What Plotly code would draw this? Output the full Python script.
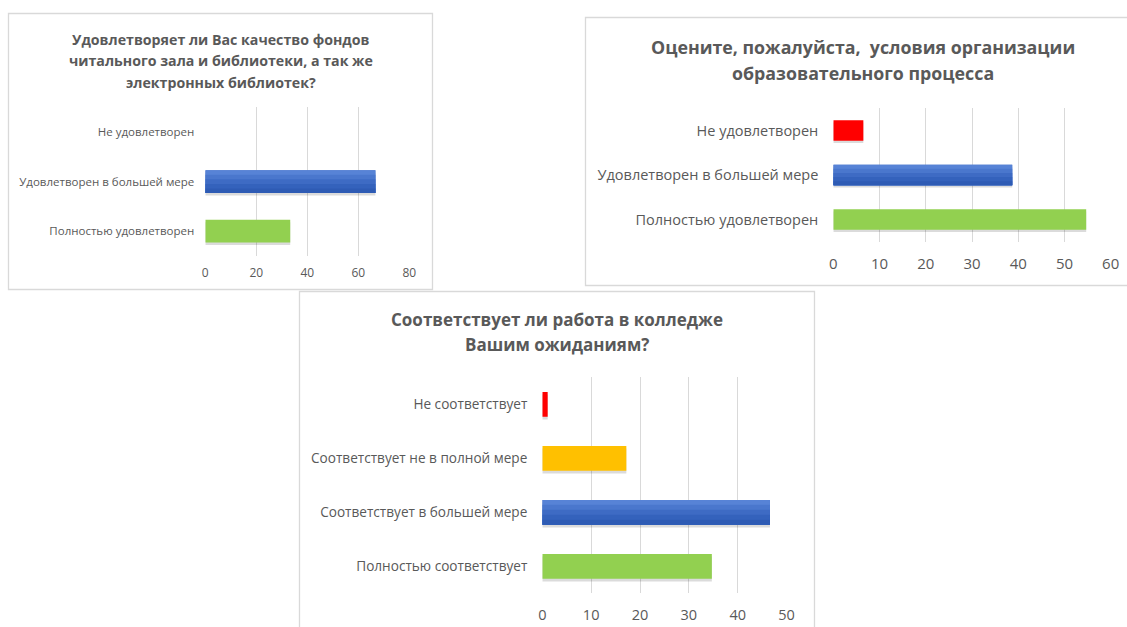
import plotly.graph_objects as go

W, H = 1127, 627

# ---------- data ----------
cats1 = ["Не удовлетворен", "Удовлетворен в большей мере", "Полностью удовлетворен"]
vals1 = [0, 66.7, 33.3]
cols1 = ["#FFFFFF", "#3F6DC6", "#92D050"]
ticks1 = [0, 20, 40, 60, 80]
title1 = ["Удовлетворяет ли Вас качество фондов",
          "читального зала и библиотеки, а так же",
          "электронных библиотек?"]

cats2 = ["Не удовлетворен", "Удовлетворен в большей мере", "Полностью удовлетворен"]
vals2 = [6.5, 38.7, 54.7]
cols2 = ["#FF0000", "#3F6DC6", "#92D050"]
ticks2 = [0, 10, 20, 30, 40, 50, 60]
title2 = ["Оцените, пожалуйста,  условия организации",
          "образовательного процесса"]

cats3 = ["Не соответствует", "Соответствует не в полной мере",
         "Соответствует в большей мере", "Полностью соответствует"]
vals3 = [1.1, 17.2, 46.6, 34.7]
cols3 = ["#FF0000", "#FFC000", "#3F6DC6", "#92D050"]
ticks3 = [0, 10, 20, 30, 40, 50]
title3 = ["Соответствует ли работа в колледже", "Вашим ожиданиям?"]

FONT = "Open Sans"
TXT = "#595959"
GRID = "#D9D9D9"
BORDER = "#D9D9D9"
BLUE = "#3F6DC6"
BLUE_STRIPS = ["#5783D6", "#4A77CD", "#3E6BC4", "#3462BC", "#2E5BB4"]
BW = 0.46  # bar thickness (category units)


def px(x):
    return x / W


def py(y):
    return 1 - y / H


fig = go.Figure()

panels = [
    # cats, vals, cols, ticks, (x0px, x1px), (ytop, ybot), label size, tick size, x standoff, y standoff
    (cats1, vals1, cols1, ticks1, (205.3, 409.3), (107.3, 256.0), 11.5, 12, 8, 10),
    (cats2, vals2, cols2, ticks2, (833.3, 1110.7), (108.3, 241.7), 14.5, 15, 11, 14),
    (cats3, vals3, cols3, ticks3, (542.3, 786.6), (377.3, 593.3), 13.6, 14.5, 11, 14),
]

layout_axes = {}
for i, (cats, vals, cols, ticks, (x0, x1), (yt, yb), lsz, tsz, xso, yso) in enumerate(panels, start=1):
    suffix = "" if i == 1 else str(i)
    xa, ya = "x" + suffix, "y" + suffix
    # soft shadow behind bars
    fig.add_trace(go.Bar(
        x=vals, y=cats, orientation="h",
        marker=dict(color="rgba(0,0,0,0.14)", line=dict(width=0)),
        xaxis=xa, yaxis=ya, width=BW, offset=-BW / 2 + 0.05,
        showlegend=False, hoverinfo="skip",
    ))
    # main bars
    fig.add_trace(go.Bar(
        x=vals, y=cats, orientation="h",
        marker=dict(color=cols, line=dict(width=0)),
        xaxis=xa, yaxis=ya, width=BW, offset=-BW / 2,
        showlegend=False, hoverinfo="x+y",
    ))
    # vertical gradient on the blue bar (nested layers, no seams)
    blue_vals = [v if c == BLUE else 0 for v, c in zip(vals, cols)]
    n = len(BLUE_STRIPS)
    for k, sc in enumerate(BLUE_STRIPS):
        fig.add_trace(go.Bar(
            x=blue_vals, y=cats, orientation="h",
            marker=dict(color=sc, line=dict(width=0)),
            xaxis=xa, yaxis=ya, width=BW - k * BW / n, offset=-BW / 2 + k * BW / n,
            showlegend=False, hoverinfo="skip",
        ))
    layout_axes["xaxis" + suffix] = dict(
        domain=[px(x0), px(x1)], range=[0, ticks[-1]], anchor=ya,
        tickvals=ticks, ticktext=[str(t) for t in ticks],
        showgrid=True, gridcolor=GRID, gridwidth=1, zeroline=False,
        showline=False, ticks="", automargin=False,
        tickfont=dict(family=FONT, size=tsz, color=TXT),
        ticklabelstandoff=xso, fixedrange=True,
    )
    layout_axes["yaxis" + suffix] = dict(
        domain=[py(yb), py(yt)], anchor=xa,
        type="category", categoryorder="array", categoryarray=cats,
        autorange="reversed", showgrid=False, zeroline=False, showline=False,
        ticks="", automargin=False,
        tickfont=dict(family=FONT, size=lsz, color=TXT),
        ticklabelstandoff=yso, fixedrange=True,
    )

# ---------- panel frames ----------
shapes = []
frames = [(8.5, 13.5, 432.5, 289.5), (585.5, 17.5, 1140, 285.5), (299.5, 291.5, 814.5, 640)]
for (a, b, c, d) in frames:
    shapes.append(dict(type="rect", xref="paper", yref="paper",
                       x0=px(a), x1=px(c), y0=py(d), y1=py(b),
                       line=dict(color=BORDER, width=1.3), fillcolor="rgba(0,0,0,0)",
                       layer="below"))

# ---------- titles ----------
annotations = []
title_specs = [
    (title1, 220.5, [39.5, 61.0, 82.5], 14.2),
    (title2, 862.5, [46.5, 73.0], 17.8),
    (title3, 556.8, [319.0, 344.0], 17),
]
for lines, cx, ys, sz in title_specs:
    for line, yy in zip(lines, ys):
        annotations.append(dict(
            text="<b>" + line + "</b>", x=px(cx), y=py(yy), xref="paper", yref="paper",
            xanchor="center", yanchor="middle", showarrow=False,
            font=dict(family=FONT, size=sz, color=TXT),
        ))

fig.update_layout(
    width=W, height=H, autosize=False,
    margin=dict(l=0, r=0, t=0, b=0, pad=0),
    paper_bgcolor="white", plot_bgcolor="rgba(0,0,0,0)",
    template="none", barmode="overlay",
    shapes=shapes, annotations=annotations,
    font=dict(family=FONT, color=TXT),
    **layout_axes,
)

fig.write_html(
    "out.html",
    config={"displayModeBar": False},
    post_script="document.body.style.margin='0px';document.body.style.overflow='hidden';",
)
